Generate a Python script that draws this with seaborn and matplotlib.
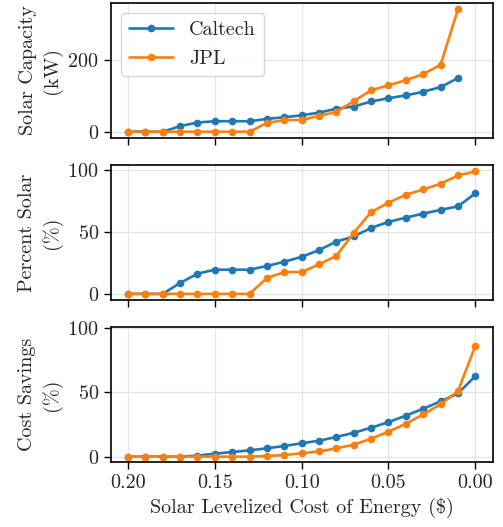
import numpy as np
import pandas as pd
import matplotlib.pyplot as plt
import seaborn as sns

# levelized cost of solar energy ($), plotted right-to-left
lcoe = [0.20, 0.19, 0.18, 0.17, 0.16, 0.15, 0.14, 0.13, 0.12, 0.11, 0.10,
        0.09, 0.08, 0.07, 0.06, 0.05, 0.04, 0.03, 0.02, 0.01, 0.00]

# solar capacity (kW) -- no value at 0.00
caltech_capacity = [0, 0, 0, 15.5, 25.6, 29.2, 29.2, 29.2, 35.6, 40.2,
                    45.6, 53, 64, 70, 84, 93, 101, 111, 124, 149]
jpl_capacity = [0, 0, 0, 0, 0, 0, 0, 0, 24.6, 32, 33, 44, 55, 85, 115,
                129, 143, 160, 186, 340]

# percent solar (%)
caltech_percent = [0, 0, 0, 8.8, 16.3, 19.5, 19.5, 19.5, 22.5, 25.9, 29.9,
                   35.3, 42.2, 46.3, 53.2, 58.0, 61.5, 64.7, 67.7, 70.6, 81.0]
jpl_percent = [0, 0, 0, 0, 0, 0, 0, 0, 12.8, 17.6, 17.6, 23.8, 30.7, 49.2,
               66.0, 73.5, 79.9, 84.2, 88.8, 95.5, 98.7]

# cost savings (%)
caltech_savings = [0, 0, 0, 0, 0.8, 2.3, 3.6, 4.9, 6.5, 8.3, 10.4, 12.4,
                   15.3, 18.6, 22.5, 26.9, 31.9, 37.3, 43.0, 49.2, 62.7]
jpl_savings = [0, 0, 0, 0, 0, 0, 0, 0, 0.5, 1.3, 2.6, 4.1, 6.5, 9.3, 14.0,
               19.4, 25.6, 32.9, 40.7, 51.0, 86.2]

sites = ['Caltech', 'JPL']


def long_frame(caltech, jpl):
    rows = []
    for site, vals in zip(sites, [caltech, jpl]):
        for x, v in zip(lcoe, vals):
            rows.append((x, v, site))
    return pd.DataFrame(rows, columns=['lcoe', 'value', 'site'])


sns.set_style('ticks')
plt.rcParams['font.family'] = 'serif'
plt.rcParams['font.serif'] = ['cmr10']
plt.rcParams['axes.formatter.use_mathtext'] = True
plt.rcParams['axes.unicode_minus'] = False

fs = 14.5

fig, axes = plt.subplots(3, 1, figsize=(5.03, 5.27), dpi=100, sharex=True)
fig.subplots_adjust(left=0.220, right=0.9795, top=0.994, bottom=0.123,
                    hspace=0.204)

panels = [
    (caltech_capacity, jpl_capacity, 'Solar Capacity\n(kW)', [0, 200]),
    (caltech_percent, jpl_percent, 'Percent Solar\n(%)', [0, 50, 100]),
    (caltech_savings, jpl_savings, 'Cost Savings\n(%)', [0, 50, 100]),
]
colors = {'Caltech': '#1f77b4', 'JPL': '#ff7f0e'}

for ax, (c, j, label, yt) in zip(axes, panels):
    df = long_frame(c, j)
    sns.lineplot(data=df, x='lcoe', y='value', hue='site', palette=colors,
                 marker='o', markersize=5.5, markeredgewidth=0, linewidth=1.9,
                 ax=ax)
    ax.set_ylabel(label, fontsize=fs, linespacing=1.3)
    ax.set_xlabel('')
    ax.set_yticks(yt)
    ax.grid(True, color='#e3e3e3', linewidth=0.8)
    ax.tick_params(labelsize=fs, length=5, width=1, color='black')
    for s in ax.spines.values():
        s.set_linewidth(1.2)
        s.set_color('black')

axes[0].legend(loc='upper left', fontsize=fs, handlelength=2.2)
axes[1].get_legend().remove()
axes[2].get_legend().remove()

axes[2].set_ylim(-4.3, 100.5)
axes[2].set_xlim(0.21, -0.01)
axes[2].set_xticks([0.20, 0.15, 0.10, 0.05, 0.00])
axes[2].set_xticklabels(['0.20', '0.15', '0.10', '0.05', '0.00'])
axes[2].set_xlabel('Solar Levelized Cost of Energy (\\$)', fontsize=fs)

fig.savefig('out.png', dpi=100)
